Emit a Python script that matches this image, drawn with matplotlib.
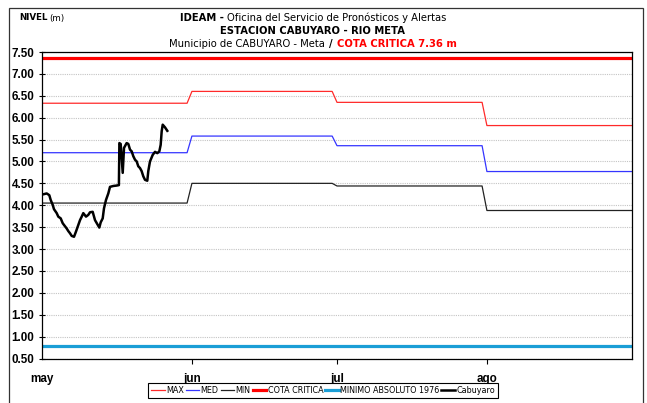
import matplotlib
matplotlib.use("Agg")
import matplotlib.pyplot as plt
from matplotlib.patches import Rectangle

W, H = 647, 403
NARROW = ["Liberation Sans Narrow", "DejaVu Sans Condensed", "DejaVu Sans"]
ARIAL = ["Liberation Sans", "DejaVu Sans"]

# days counted from 1 May
month_days = [0, 31, 61, 92]
month_labels = ["may", "jun", "jul", "ago"]

# historical levels (m), piecewise by month
hist_days = [0, 30, 31, 60, 61, 91, 92, 122]
nivel_max = [6.33, 6.33, 6.60, 6.60, 6.35, 6.35, 5.82, 5.82]
nivel_med = [5.20, 5.20, 5.58, 5.58, 5.36, 5.36, 4.77, 4.77]
nivel_min = [4.05, 4.05, 4.50, 4.50, 4.44, 4.44, 3.88, 3.88]
cota_critica = 7.36
minimo_1976 = 0.79

# observed levels at Cabuyaro
cab_days = [0, 0.27, 0.97, 1.51, 1.8, 2.21, 2.48, 3.04, 3.37, 3.87, 4.28, 4.55,
            5.1, 5.44, 5.79, 6.14, 6.62, 7.03, 7.51, 7.86, 8.21, 8.54, 9.1, 9.57,
            9.93, 10.48, 10.96, 11.43, 11.85, 12.14, 12.55, 12.82, 13.23, 13.71,
            14.06, 14.74, 15.45, 15.9, 16.0, 16.27, 16.69, 16.96, 17.5, 17.85,
            18.2, 18.55, 18.88, 19.23, 19.58, 19.91, 20.26, 20.6, 20.95, 21.3,
            21.77, 21.98, 22.33, 22.89, 23.37, 23.84, 24.26, 24.54, 24.75, 24.96,
            25.43, 25.91]
cab_nivel = [4.25, 4.25, 4.27, 4.23, 4.12, 4.01, 3.91, 3.82, 3.74, 3.70, 3.59, 3.55,
             3.47, 3.41, 3.36, 3.30, 3.28, 3.40, 3.55, 3.66, 3.74, 3.82, 3.74, 3.78,
             3.84, 3.85, 3.66, 3.57, 3.49, 3.61, 3.70, 3.93, 4.12, 4.27,
             4.42, 4.44, 4.45, 4.46, 5.42, 5.40, 4.74, 5.31, 5.42, 5.40,
             5.27, 5.23, 5.12, 5.04, 5.00, 4.89, 4.85, 4.78, 4.66, 4.58,
             4.56, 4.78, 5.00, 5.15, 5.22, 5.19, 5.23, 5.38, 5.69, 5.84,
             5.78, 5.70]

fig = plt.figure(figsize=(W / 100, H / 100), dpi=100)
ax = fig.add_axes([42 / W, 1 - 358.5 / H, 590 / W, 306.5 / H])

l_max, = ax.plot(hist_days, nivel_max, color="#ff2a2a", lw=0.9, label="MAX")
l_med, = ax.plot(hist_days, nivel_med, color="#3535ff", lw=0.9, label="MED")
l_min, = ax.plot(hist_days, nivel_min, color="#222222", lw=0.9, label="MIN")
l_cot = ax.axhline(cota_critica, color="#ff0000", lw=2.3, label="COTA CRITICA")
l_abs = ax.axhline(minimo_1976, color="#1a9ed6", lw=2.3, label="MINIMO ABSOLUTO 1976")
l_cab, = ax.plot(cab_days, cab_nivel, color="black", lw=1.8,
                 solid_joinstyle="round", label="Cabuyaro")

ax.set_xlim(0, 122)
ax.set_ylim(0.5, 7.5)
ax.set_yticks([0.5 + 0.5 * i for i in range(15)])
ax.set_yticklabels(["%.2f" % (0.5 + 0.5 * i) for i in range(15)])
ax.yaxis.grid(True, color="#c4c4c4", ls=(0, (1, 1)), lw=0.8)
ax.set_axisbelow(True)
ax.set_xticks(month_days)
ax.set_xticklabels(month_labels)
ax.tick_params(axis="y", direction="inout", length=5, width=0.8, pad=3)
ax.tick_params(axis="x", direction="out", length=3.5, width=0.8, pad=7)
for lab in ax.get_xticklabels() + ax.get_yticklabels():
    lab.set_family(ARIAL)
    lab.set_fontweight("bold")
    lab.set_fontsize(8.4)
ax.xaxis.get_major_ticks()[0].tick1line.set_visible(False)
for s in ax.spines.values():
    s.set_linewidth(0.9)

leg = ax.legend(handles=[l_max, l_med, l_min, l_cot, l_abs, l_cab],
                loc="center", bbox_to_anchor=(323 / W, 1 - 390.5 / H),
                bbox_transform=fig.transFigure, ncol=6, fancybox=False,
                framealpha=1, edgecolor="black", handlelength=1.7,
                handletextpad=0.15, columnspacing=0.25, borderpad=0.4,
                borderaxespad=0, prop={"family": NARROW, "size": 5.8})
leg.get_frame().set_linewidth(0.8)


def put_line(pieces, xc, y_px, size, box=False, gap=3):
    texts = []
    for s, weight, color in pieces:
        kw = {}
        if box:
            kw["bbox"] = dict(facecolor="white", edgecolor="none", pad=1.5)
        texts.append(fig.text(0, 1 - y_px / H, s, fontsize=size, fontweight=weight,
                              color=color, family=NARROW, ha="left", va="center", **kw))
    r = fig.canvas.get_renderer()
    widths = [t.get_window_extent(r).width for t in texts]
    x = xc - (sum(widths) + gap * (len(widths) - 1)) / 2
    for t, w in zip(texts, widths):
        t.set_x(x / W)
        x += w + gap


put_line([("IDEAM -", "bold", "black"),
          ("Oficina del Servicio de Pronósticos y Alertas", "normal", "black")],
         313, 18, 7.2)
put_line([("ESTACION CABUYARO - RIO META", "bold", "black")], 313, 31, 7.2)
put_line([("Municipio de CABUYARO - Meta", "normal", "black"),
          ("/", "bold", "black"),
          ("COTA CRITICA 7.36 m", "bold", "#ff0000")],
         313, 44, 7.2, box=True, gap=4)
put_line([("NIVEL", "bold", "black"), ("(m)", "normal", "black")], 42, 18, 6.3, gap=2)

# outer frame of the chart area
fig.patches.append(Rectangle((9 / W, -0.05), 634 / W, 1.05 - 8 / H,
                             transform=fig.transFigure, fill=False,
                             edgecolor="#333333", lw=0.9))

fig.savefig("out.png", dpi=100)
